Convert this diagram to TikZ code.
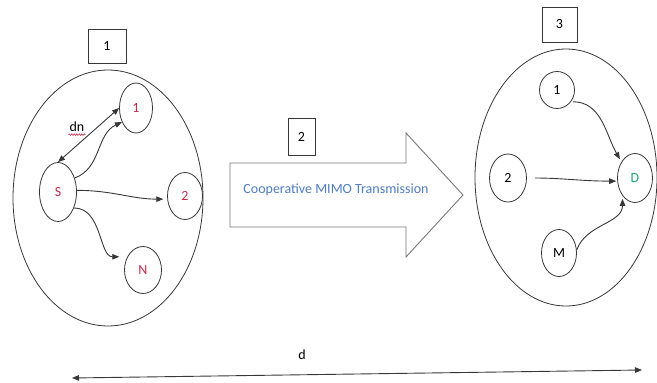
\documentclass[tikz,border=0pt]{standalone}
\usepackage{fontspec}
\setmainfont{Carlito}
\usetikzlibrary{shapes.geometric,arrows.meta,decorations.pathmorphing}
\definecolor{lbl}{RGB}{200,40,70}
\definecolor{grn}{RGB}{30,170,110}
\definecolor{blu}{RGB}{80,125,195}
\definecolor{ln}{RGB}{55,55,55}
\definecolor{lgray}{RGB}{120,120,120}
\begin{document}
\begin{tikzpicture}[x=1pt,y=-1pt,
  every node/.style={font=\fontsize{14}{16}\selectfont},
  big/.style={ellipse,draw=ln,line width=0.8pt,inner sep=0pt},
  nd/.style={ellipse,draw=ln,line width=0.8pt,inner sep=0pt},
  numbox/.style={rectangle,draw=ln,line width=0.8pt,inner sep=0pt},
  conn/.style={draw=ln,line width=0.9pt,-{Triangle[length=7pt,width=5.5pt]}},
  dconn/.style={draw=ln,line width=0.9pt,{Triangle[length=7pt,width=5.5pt]}-{Triangle[length=7pt,width=5.5pt]}}
]
\useasboundingbox (0,0) rectangle (657,383);

% big ellipses
\node[big,minimum width=190pt,minimum height=256pt] (L) at (108,198) {};
\node[big,minimum width=182pt,minimum height=257pt] (R) at (566,177.5) {};

% number boxes
\node[numbox,minimum width=38pt,minimum height=34pt] (b1) at (107,46) {1};
\node[numbox,minimum width=27pt,minimum height=37pt] (b2) at (301.5,136.5) {2};
\node[numbox,minimum width=35pt,minimum height=35pt] (b3) at (559.5,24.5) {3};

% left nodes
\node[nd,minimum width=33pt,minimum height=50pt,text=lbl] (n1) at (136,108) {1};
\node[nd,minimum width=37pt,minimum height=59pt,text=lbl] (S) at (58,192) {S};
\node[nd,minimum width=35pt,minimum height=47pt,text=lbl] (n2) at (185,196) {2};
\node[nd,minimum width=37pt,minimum height=47pt,text=lbl] (N) at (143,270) {N};
\node[inner sep=1pt] (dn) at (77,127) {dn};
\draw[lbl,line width=0.6pt,decorate,decoration={snake,amplitude=0.8pt,segment length=2.5pt}]
  ([yshift=-1.5pt]dn.south west) -- ([yshift=-1.5pt]dn.south east);

% left connectors
\draw[dconn] (S.north) -- (n1.west);
\draw[conn] (S.40) to[out=20,in=205] (n1.225);
\draw[conn,shorten >=4pt] (S.5) to[out=0,in=180] (n2.190);
\draw[conn,shorten >=8pt] (S.-45) to[out=0,in=180] (N.140);

% block arrow
\draw[lgray,line width=0.9pt,fill=white] (230,163) -- (406,163) -- (406,133) -- (463,195)
  -- (406,257) -- (406,227) -- (230,227) -- cycle;
\node[text=blu] (txt) at (336,190) {Cooperative MIMO Transmission};

% right nodes
\node[nd,minimum width=35pt,minimum height=37pt] (r1) at (557,90) {1};
\node[nd,minimum width=37pt,minimum height=48pt] (r2) at (508,178) {2};
\node[nd,minimum width=35pt,minimum height=49pt,text=grn] (D) at (635,178) {D};
\node[nd,minimum width=35pt,minimum height=47pt] (M) at (559,253) {M};

% right connectors
\draw[conn,shorten <=2pt,shorten >=3pt] (r1.-40) to[out=0,in=120] (D.130);
\draw[conn,shorten <=8pt,shorten >=1pt] (r2.east) to[out=0,in=180] (D.190);
\draw[conn,shorten >=3pt] (M.10) to[out=70,in=-90] (D.235);

% distance arrow
\coordinate (dl) at (72,378);
\coordinate (dr) at (642,370);
\draw[dconn] (dl) -- (dr);
\node (dlab) at (302,355) {d};
\end{tikzpicture}
\end{document}
